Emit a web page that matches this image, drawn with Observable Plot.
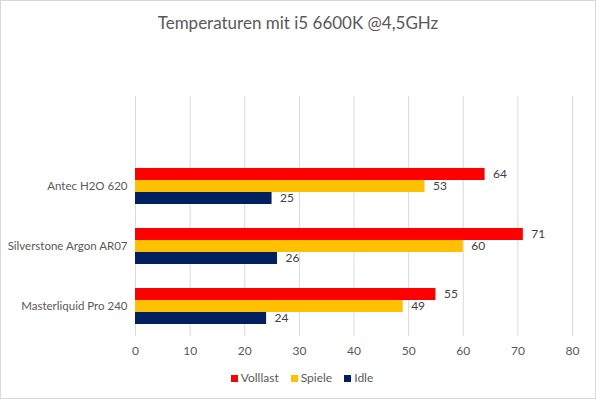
<!DOCTYPE html>
<html>
<head>
<meta charset="utf-8">
<script src="https://cdn.jsdelivr.net/npm/d3@7"></script>
<script src="https://cdn.jsdelivr.net/npm/@observablehq/plot@0.6"></script>
<style>
  html, body { margin: 0; padding: 0; background: #fff; }
  #wrap { width: 596px; height: 399px; box-sizing: border-box; border: 1px solid #d9d9d9; font-family: Lato, "Open Sans", sans-serif; color: #595959; overflow: hidden; }
  #title { height: 44px; line-height: 44px; text-align: center; font-size: 17px; color: #595959; }
  #legend { display: flex; justify-content: center; align-items: center; gap: 12px; font-size: 12px; color: #595959; margin-top: 5px; padding-left: 8px; }
  #legend span.sw { display: inline-block; width: 7px; height: 7px; margin-right: 3px; }
  svg { display: block; }
</style>
</head>
<body>
<div id="wrap">
  <div id="title">Temperaturen mit i5 6600K @4,5GHz</div>
  <div id="chart"></div>
  <div id="legend"></div>
</div>
<script>
const categories = ["Antec H2O 620", "Silverstone Argon AR07", "Masterliquid Pro 240"];
const series = ["Volllast", "Spiele", "Idle"];
const volllast = [64, 71, 55];
const spiele = [53, 60, 49];
const idle = [25, 26, 24];
const xTicks = [0, 10, 20, 30, 40, 50, 60, 70, 80];
const colors = ["#ff0000", "#ffc000", "#002060"];

const values = [volllast, spiele, idle];
const data = [];
categories.forEach((c, i) => series.forEach((s, j) => data.push({cat: c, series: s, value: values[j][i]})));
const fyDomain = ["", ...categories];
const gridData = [];
fyDomain.forEach(c => xTicks.forEach(t => gridData.push({cat: c, x: t})));

const plot = Plot.plot({
  width: 594,
  height: 320,
  marginLeft: 134,
  marginRight: 23,
  marginTop: 50,
  marginBottom: 29,
  style: {fontFamily: "Lato, 'Open Sans', sans-serif", fontSize: "12px", color: "#595959", background: "transparent"},
  x: {domain: [0, 80]},
  y: {domain: series, paddingInner: 0, paddingOuter: 0.88, axis: null},
  fy: {domain: fyDomain, padding: 0},
  color: {domain: series, range: colors},
  marks: [
    Plot.ruleX(gridData, {x: "x", fy: "cat", stroke: "#d9d9d9", strokeWidth: 1}),
    Plot.barX(data, {x: "value", y: "series", fy: "cat", fill: "series", inset: 0}),
    Plot.text(data, {x: "value", y: "series", fy: "cat", text: d => String(d.value), textAnchor: "start", dx: 8, fill: "#404040", fontSize: 12}),
    Plot.axisX({ticks: xTicks, tickSize: 0, tickPadding: 10, tickFormat: d => String(d), label: null, fill: "#595959"}),
    Plot.axisFy({anchor: "left", tickSize: 0, tickPadding: 8, label: null, fill: "#595959", fontSize: 11.5, tickFormat: d => d})
  ]
});
document.getElementById("chart").appendChild(plot);

const legend = document.getElementById("legend");
series.forEach((s, i) => {
  const item = document.createElement("div");
  item.innerHTML = `<span class="sw" style="background:${colors[i]}"></span>${s}`;
  legend.appendChild(item);
});
</script>
</body>
</html>
